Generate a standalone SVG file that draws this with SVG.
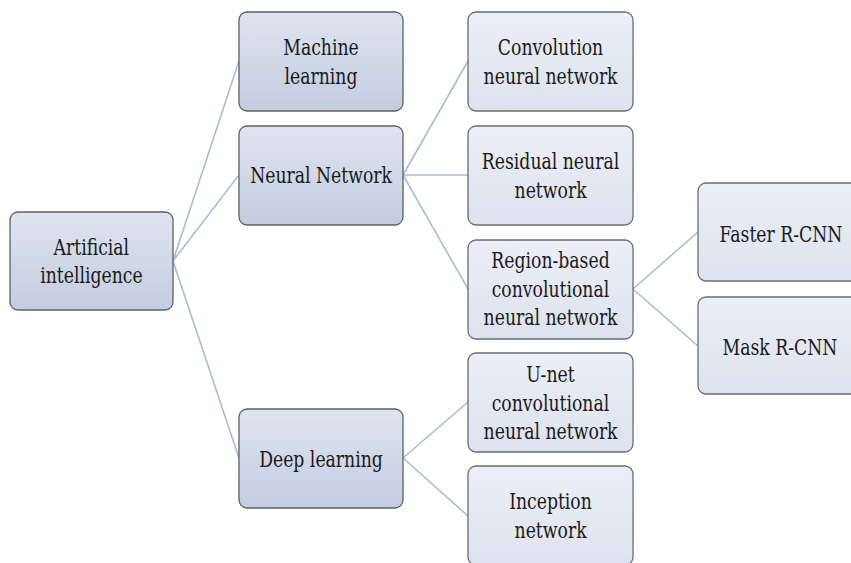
<svg xmlns="http://www.w3.org/2000/svg" width="851" height="563" viewBox="0 0 851 563">
<defs>
<linearGradient id="gA" x1="0" y1="0" x2="0" y2="1">
<stop offset="0" stop-color="#dfe4f0"/>
<stop offset="1" stop-color="#c3cce0"/>
</linearGradient>
<linearGradient id="gB" x1="0" y1="0" x2="0" y2="1">
<stop offset="0" stop-color="#eceff6"/>
<stop offset="1" stop-color="#dde2ee"/>
</linearGradient>
</defs>
<style>
rect.a{fill:url(#gA);stroke:#5e6066;stroke-width:1.3}
rect.b{fill:url(#gB);stroke:#6a6c72;stroke-width:1.3}
.t{font-family:'DejaVu Serif',serif;font-size:23px;fill:#1a1a1a;text-anchor:middle;transform-box:fill-box;transform-origin:center;transform:scaleX(0.75)}
#connectors line{stroke:#aebbd8;stroke-width:1.6}
</style>
<rect width="851" height="563" fill="#ffffff"/>
<g id="connectors">
<line x1="173" y1="261" x2="239" y2="61"/>
<line x1="173" y1="261" x2="239" y2="175"/>
<line x1="173" y1="261" x2="239" y2="458"/>
<line x1="403" y1="175" x2="468" y2="61"/>
<line x1="403" y1="175" x2="468" y2="175"/>
<line x1="403" y1="175" x2="468" y2="289"/>
<line x1="633" y1="289" x2="698" y2="232"/>
<line x1="633" y1="289" x2="698" y2="346"/>
<line x1="403" y1="458" x2="468" y2="402"/>
<line x1="403" y1="458" x2="468" y2="516"/>
</g>
<g id="ai">
<rect class="a" x="10" y="212" width="163" height="98" rx="8"/>
<text class="t" x="91.5" y="255">Artificial</text>
<text class="t" x="91.5" y="283">intelligence</text>
</g>
<g id="ml">
<rect class="a" x="239" y="12" width="164" height="99" rx="8"/>
<text class="t" x="321" y="55">Machine</text>
<text class="t" x="321" y="84">learning</text>
</g>
<g id="nn">
<rect class="a" x="239" y="126" width="164" height="99" rx="8"/>
<text class="t" x="321" y="183">Neural  Network</text>
</g>
<g id="dl">
<rect class="a" x="239" y="409" width="164" height="99" rx="8"/>
<text class="t" x="321" y="467">Deep learning</text>
</g>
<g id="cnn">
<rect class="b" x="468" y="12" width="165" height="99" rx="8"/>
<text class="t" x="550.5" y="55">Convolution</text>
<text class="t" x="550.5" y="84">neural  network</text>
</g>
<g id="resnet">
<rect class="b" x="468" y="126" width="165" height="99" rx="8"/>
<text class="t" x="550.5" y="169">Residual  neural</text>
<text class="t" x="550.5" y="198">network</text>
</g>
<g id="rcnn">
<rect class="b" x="468" y="240" width="165" height="99" rx="8"/>
<text class="t" x="550.5" y="268">Region-based</text>
<text class="t" x="550.5" y="297">convolutional</text>
<text class="t" x="550.5" y="325">neural  network</text>
</g>
<g id="unet">
<rect class="b" x="468" y="353" width="165" height="99" rx="8"/>
<text class="t" x="550.5" y="382">U-net</text>
<text class="t" x="550.5" y="411">convolutional</text>
<text class="t" x="550.5" y="439">neural  network</text>
</g>
<g id="inception">
<rect class="b" x="468" y="466" width="165" height="99" rx="8"/>
<text class="t" x="550.5" y="509">Inception</text>
<text class="t" x="550.5" y="538">network</text>
</g>
<g id="faster">
<rect class="b" x="698" y="183" width="165" height="98" rx="8"/>
<text class="t" x="781" y="242">Faster R-CNN</text>
</g>
<g id="mask">
<rect class="b" x="698" y="297" width="165" height="97" rx="8"/>
<text class="t" x="780" y="355">Mask R-CNN</text>
</g>
</svg>
